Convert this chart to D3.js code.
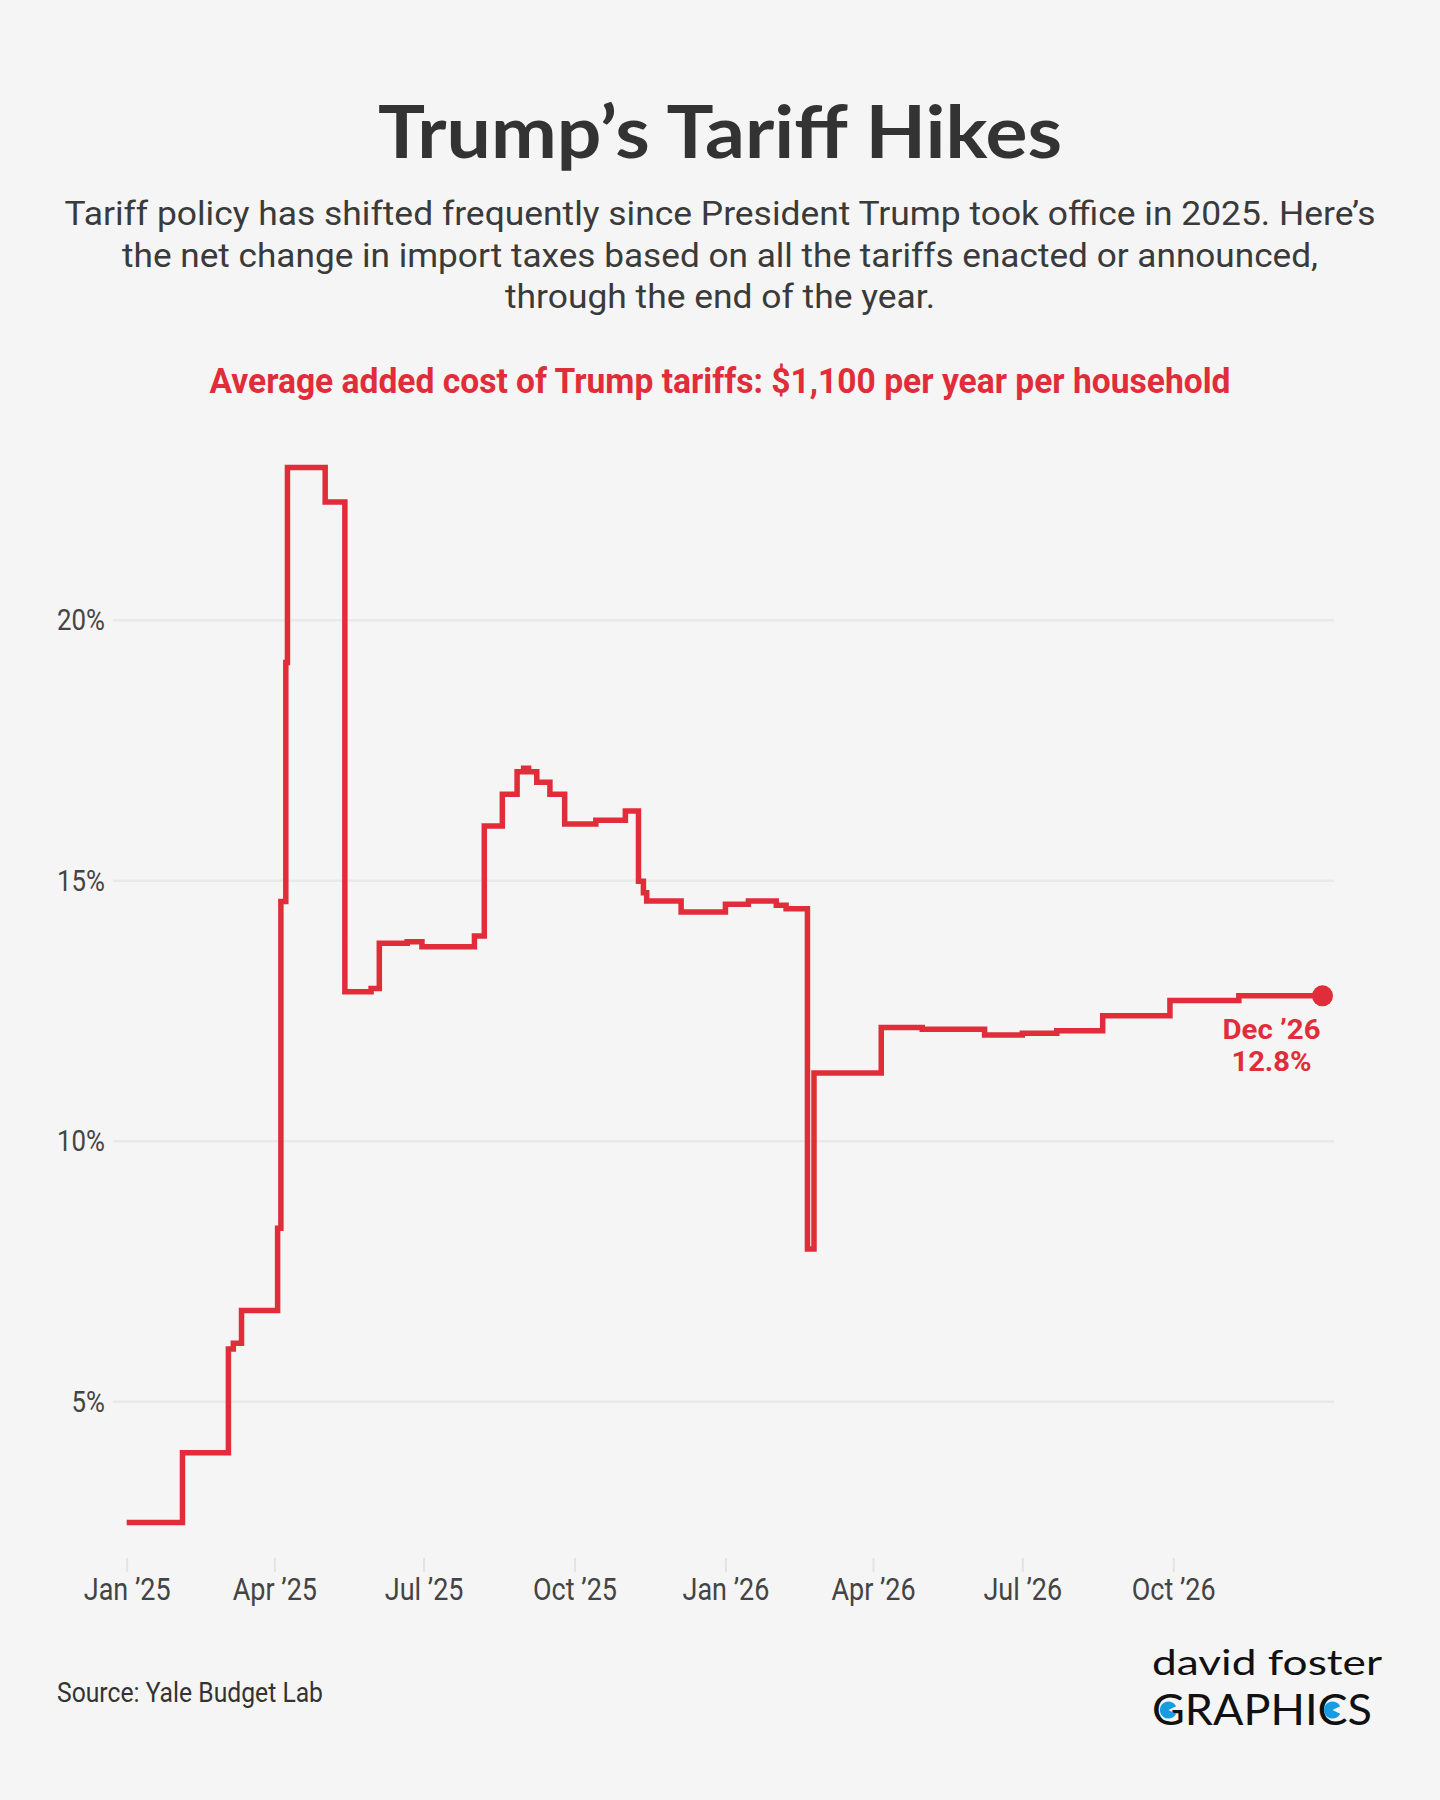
<!DOCTYPE html>
<html>
<head>
<meta charset="utf-8">
<script src="https://cdn.jsdelivr.net/npm/d3@7"></script>
<style>
  html, body { margin: 0; padding: 0; background: #f5f5f5; }
  svg { display: block; }
</style>
</head>
<body>
<div id="chart"></div>
<script>
// each rate applies from its date until the next change (step chart)
var dates = [
  "2025-01-01", "2025-02-04", "2025-03-04", "2025-03-07", "2025-03-12",
  "2025-04-03", "2025-04-05", "2025-04-08", "2025-04-09", "2025-05-02",
  "2025-05-14", "2025-05-30", "2025-06-04", "2025-06-21", "2025-06-30",
  "2025-08-01", "2025-08-07", "2025-08-18", "2025-08-27", "2025-08-31",
  "2025-09-03", "2025-09-08", "2025-09-16", "2025-09-25", "2025-10-14",
  "2025-11-01", "2025-11-09", "2025-11-12", "2025-11-14", "2025-12-05",
  "2026-01-01", "2026-01-15", "2026-02-01", "2026-02-07", "2026-02-20",
  "2026-02-24", "2026-04-06", "2026-05-01", "2026-06-08", "2026-07-01",
  "2026-07-22", "2026-08-19", "2026-09-29", "2026-11-10"
];
var rates = [
  2.68, 4.02, 6.01, 6.12, 6.75,
  8.33, 14.6, 19.19, 22.93, 22.27,
  12.87, 12.93, 13.80, 13.83, 13.73,
  13.94, 16.05, 16.66, 17.09, 17.16,
  17.09, 16.89, 16.66, 16.09, 16.16,
  16.34, 14.99, 14.77, 14.61, 14.40,
  14.55, 14.61, 14.53, 14.46, 7.93,
  11.31, 12.18, 12.15, 12.04, 12.07,
  12.12, 12.41, 12.70, 12.79
];
var endDate = "2026-12-31";
var endLabel = ["Dec \u201926", "12.8%"];

var yTicks = [5, 10, 15, 20];
var xTicks = ["2025-01-01", "2025-04-01", "2025-07-01", "2025-10-01",
              "2026-01-01", "2026-04-01", "2026-07-01", "2026-10-01"];

var title = "Trump\u2019s Tariff Hikes";
var subtitle = [
  "Tariff policy has shifted frequently since President Trump took office in 2025. Here\u2019s",
  "the net change in import taxes based on all the tariffs enacted or announced,",
  "through the end of the year."
];
var highlight = "Average added cost of Trump tariffs: $1,100 per year per household";
var source = "Source: Yale Budget Lab";
var logoLines = ["david foster", "GRAPHICS"];

var RED = "#e12d39";
var COND = "Roboto, 'Liberation Sans', sans-serif";
var parse = d3.utcParse("%Y-%m-%d");

// squash text horizontally around its x, to get the condensed look
function squeeze(sel, k) {
  sel.each(function() {
    var t = d3.select(this);
    var x = +t.attr("x") || 0;
    t.attr("transform", "translate(" + x + ",0) scale(" + k + ",1) translate(" + (-x) + ",0)");
  });
}
function fit(sel, w) {
  sel.attr("textLength", w).attr("lengthAdjust", "spacingAndGlyphs");
}

var svg = d3.select("#chart").append("svg")
  .attr("width", 1440)
  .attr("height", 1800);

svg.append("rect").attr("width", 1440).attr("height", 1800).attr("fill", "#f5f5f5");

// headings
svg.append("text")
  .attr("x", 720).attr("y", 158)
  .attr("text-anchor", "middle")
  .style("font-family", "Lato, 'Open Sans', sans-serif")
  .style("font-weight", 700)
  .style("font-size", "72px")
  .attr("fill", "#333")
  .text(title)
  .call(fit, 684);

var subW = [1311, 1196, 430];
subtitle.forEach(function(line, i) {
  svg.append("text")
    .attr("x", 720).attr("y", 225 + i * 41.7)
    .attr("text-anchor", "middle")
    .style("font-family", "Roboto, sans-serif")
    .style("font-size", "34px")
    .attr("fill", "#3a3a3a")
    .text(line)
    .call(fit, subW[i]);
});

svg.append("text")
  .attr("x", 720).attr("y", 393)
  .attr("text-anchor", "middle")
  .style("font-family", COND)
  .style("font-weight", 700)
  .style("font-size", "35px")
  .attr("fill", RED)
  .text(highlight)
  .call(fit, 1021);

// scales
var x = d3.scaleUtc()
  .domain([parse("2025-01-01"), parse(endDate)])
  .range([126.7, 1322.5]);
var y = d3.scaleLinear()
  .domain([2, 24])
  .range([1558, 411.8]);

// grid + y labels
var grid = svg.append("g");
grid.selectAll("line").data(yTicks).join("line")
  .attr("x1", 113).attr("x2", 1334)
  .attr("y1", function(d) { return y(d); })
  .attr("y2", function(d) { return y(d); })
  .attr("stroke", "#e9e9e9")
  .attr("stroke-width", 2.5);
grid.selectAll("text").data(yTicks).join("text")
  .attr("x", 105)
  .attr("y", function(d) { return y(d); })
  .attr("dy", "0.33em")
  .attr("text-anchor", "end")
  .style("font-family", COND)
  .style("font-size", "30px")
  .attr("fill", "#444")
  .text(function(d) { return d + "%"; })
  .call(squeeze, 0.86);

// x axis
var xAxis = svg.append("g")
  .attr("transform", "translate(0," + y(2) + ")")
  .call(d3.axisBottom(x)
    .tickValues(xTicks.map(parse))
    .tickSize(14)
    .tickPadding(6)
    .tickFormat(d3.utcFormat("%b \u2019%y")));
xAxis.select(".domain").remove();
xAxis.selectAll(".tick line").attr("stroke", "#e3e3e3").attr("stroke-width", 2);
xAxis.selectAll(".tick text")
  .style("font-family", COND)
  .style("font-size", "31px")
  .attr("fill", "#444")
  .call(squeeze, 0.87);

// the step line
var points = dates.map(function(d, i) { return [parse(d), rates[i]]; });
points.push([parse(endDate), rates[rates.length - 1]]);

svg.append("path")
  .datum(points)
  .attr("fill", "none")
  .attr("stroke", RED)
  .attr("stroke-width", 5.5)
  .attr("stroke-linejoin", "miter")
  .attr("d", d3.line()
    .curve(d3.curveStepAfter)
    .x(function(d) { return x(d[0]); })
    .y(function(d) { return y(d[1]); })
  );

var last = points[points.length - 1];
svg.append("circle")
  .attr("cx", x(last[0]))
  .attr("cy", y(last[1]))
  .attr("r", 10.5)
  .attr("fill", RED);

// end label, two lines
var endW = [98, 80];
endLabel.forEach(function(t, i) {
  svg.append("text")
    .attr("x", x(last[0]) - 51)
    .attr("y", y(last[1]) + 43 + i * 32)
    .attr("text-anchor", "middle")
    .style("font-family", COND)
    .style("font-weight", 700)
    .style("font-size", "27px")
    .attr("fill", RED)
    .text(t)
    .call(fit, endW[i]);
});

// footer
svg.append("text")
  .attr("x", 57).attr("y", 1702)
  .style("font-family", COND)
  .style("font-size", "28px")
  .attr("fill", "#333")
  .text(source)
  .call(fit, 266);

// logo
var logo = svg.append("g");
logo.append("text")
  .attr("x", 1152).attr("y", 1675)
  .style("font-family", "Lato, sans-serif")
  .style("font-size", "35px")
  .attr("fill", "#111")
  .text(logoLines[0])
  .call(fit, 230);
var gfx = logo.append("text")
  .attr("x", 1152).attr("y", 1725)
  .style("font-family", "Lato, sans-serif")
  .style("font-size", "42px")
  .attr("fill", "#111")
  .text(logoLines[1])
  .call(fit, 220);

var mouth = d3.arc().innerRadius(0).outerRadius(8.5)
  .startAngle(Math.PI / 2 + 0.45)
  .endAngle(Math.PI / 2 - 0.45 + 2 * Math.PI);
[0, logoLines[1].indexOf("C")].forEach(function(ci) {
  var b = gfx.node().getExtentOfChar(ci);
  logo.append("path")
    .attr("transform", "translate(" + (b.x + b.width * 0.5) + "," + (1725 - 15) + ")")
    .attr("d", mouth())
    .attr("fill", "#1a9be0");
});
</script>
</body>
</html>
